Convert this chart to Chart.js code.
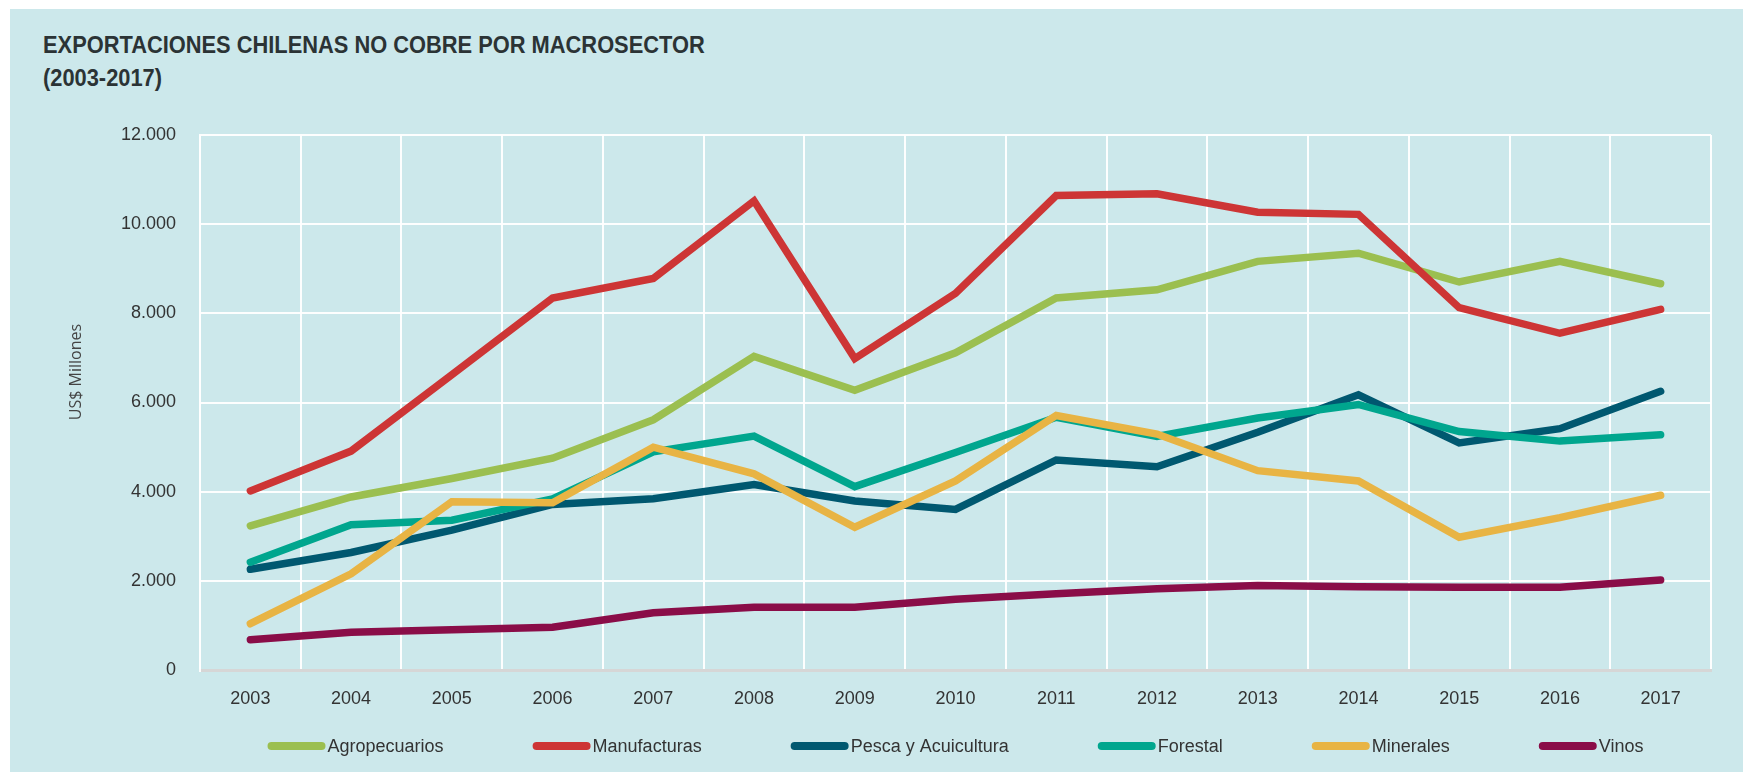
<!DOCTYPE html>
<html>
<head>
<meta charset="utf-8">
<script src="https://cdn.jsdelivr.net/npm/chart.js@4.4.1/dist/chart.umd.min.js"></script>
<style>
    html, body { margin: 0; padding: 0; background: #fff; }
    #panel { position: absolute; left: 10px; top: 9px; width: 1733px; height: 763px; background: #cce8eb; }
    #title { position: absolute; left: 33px; top: 19px; font: bold 24px "Liberation Sans Narrow", "Liberation Sans", sans-serif; line-height: 33px; color: #2b3335; transform: scaleX(0.91); transform-origin: 0 0; white-space: nowrap; }
    canvas { position: absolute; left: 0; top: 0; }
</style>
</head>
<body>
<div id="panel">
    <div id="title">EXPORTACIONES CHILENAS NO COBRE POR MACROSECTOR<br>(2003-2017)</div>
    <canvas id="chart" width="1733" height="763"></canvas>
</div>
<script>
const years = ['2003','2004','2005','2006','2007','2008','2009','2010','2011','2012','2013','2014','2015','2016','2017']
const agropecuarios = [3234, 3880, 4295, 4750, 5613, 7034, 6275, 7114, 8343, 8527, 9166, 9349, 8703, 9166, 8663]
const manufacturas = [4016, 4910, 6620, 8343, 8782, 10523, 6986, 8447, 10643, 10683, 10267, 10220, 8128, 7553, 8088]
const pescaAcuicultura = [2259, 2635, 3138, 3713, 3840, 4160, 3792, 3601, 4711, 4559, 5333, 6172, 5094, 5413, 6251]
const forestal = [2419, 3257, 3361, 3840, 4894, 5245, 4112, 4878, 5669, 5237, 5653, 5956, 5349, 5134, 5277]
const minerales = [1038, 2156, 3776, 3752, 4998, 4399, 3202, 4239, 5709, 5293, 4471, 4240, 2978, 3417, 3920]
const vinos = [679, 846, 902, 958, 1285, 1405, 1405, 1589, 1710, 1820, 1895, 1870, 1855, 1858, 2020]

const yTicks = [0, 2000, 4000, 6000, 8000, 10000, 12000]

const series = [
    { label: 'Agropecuarios', data: agropecuarios, color: '#9bbf50' },
    { label: 'Manufacturas', data: manufacturas, color: '#cd3535' },
    { label: 'Pesca y Acuicultura', data: pescaAcuicultura, color: '#005870' },
    { label: 'Forestal', data: forestal, color: '#00a68e' },
    { label: 'Minerales', data: minerales, color: '#e8b444' },
    { label: 'Vinos', data: vinos, color: '#8a0d48' },
]

const narrow = '"Liberation Sans Narrow", "Liberation Sans", sans-serif'
const fmt = v => String(v).replace(/\B(?=(\d{3})+(?!\d))/g, '.')

// legend drawn under the plot, line swatch right next to the text
const legendPlugin = {
    id: 'bottomLegend',
    afterDraw(chart) {
        const ctx = chart.ctx
        const area = chart.chartArea
        ctx.save()
        ctx.font = '18px ' + narrow
        const gap = 89, swatch = 58
        const items = chart.data.datasets.map(ds => ({
            label: ds.label, color: ds.borderColor,
            w: swatch + 2 + ctx.measureText(ds.label).width
        }))
        const total = items.reduce((s, it) => s + it.w, 0) + gap * (items.length - 1)
        let x = (area.left + area.right) / 2 - total / 2
        const y = 737
        items.forEach(it => {
            ctx.lineWidth = 8
            ctx.lineCap = 'round'
            ctx.strokeStyle = it.color
            ctx.beginPath()
            ctx.moveTo(x + 4, y)
            ctx.lineTo(x + swatch - 4, y)
            ctx.stroke()
            ctx.fillStyle = '#333'
            ctx.textBaseline = 'middle'
            ctx.textAlign = 'left'
            ctx.fillText(it.label, x + swatch + 2, y + 1)
            x += it.w + gap
        })
        ctx.restore()
    }
}

const yTitlePlugin = {
    id: 'yTitle',
    afterDraw(chart) {
        const ctx = chart.ctx
        ctx.save()
        ctx.translate(66, 363)
        ctx.rotate(-Math.PI / 2)
        ctx.font = '16px "Open Sans", sans-serif'
        ctx.fillStyle = '#444'
        ctx.textAlign = 'center'
        ctx.textBaseline = 'middle'
        ctx.fillText('US$ Millones', 0, 0)
        ctx.restore()
    }
}

new Chart(document.getElementById('chart'), {
    type: 'line',
    data: {
        labels: years,
        datasets: series.map((s, i) => ({
            label: s.label,
            data: s.data,
            borderColor: s.color,
            backgroundColor: s.color,
            borderWidth: 7.5,
            borderCapStyle: 'round',
            borderJoinStyle: 'miter',
            pointRadius: 0,
            tension: 0,
            fill: false,
            order: series.length - i,
        }))
    },
    options: {
        responsive: false,
        animation: false,
        layout: { padding: { top: 126, right: 32, left: 0, bottom: 0 } },
        plugins: {
            legend: { display: false },
            tooltip: { enabled: false },
        },
        scales: {
            x: {
                offset: true,
                grid: { offset: true, color: 'rgba(255,255,255,0.95)', lineWidth: 2, drawTicks: false },
                border: { color: '#d6d6d6', width: 3 },
                ticks: { font: { family: narrow, size: 18 }, color: '#333', padding: 18, maxRotation: 0 },
                afterFit: scale => { scale.height = 102 },
            },
            y: {
                min: 0,
                max: 12000,
                afterBuildTicks: scale => { scale.ticks = yTicks.map(v => ({ value: v })) },
                grid: {
                    color: c => c.tick && c.tick.value === 0 ? '#d6d6d6' : 'rgba(255,255,255,0.95)',
                    lineWidth: c => c.tick && c.tick.value === 0 ? 3 : 2,
                    drawTicks: false,
                },
                border: { color: 'rgba(255,255,255,0.95)', width: 2 },
                ticks: { font: { family: narrow, size: 18 }, color: '#333', padding: 24, callback: v => fmt(v) },
                afterFit: scale => { scale.width = 190 },
            }
        }
    },
    plugins: [legendPlugin, yTitlePlugin]
})
</script>
</body>
</html>
